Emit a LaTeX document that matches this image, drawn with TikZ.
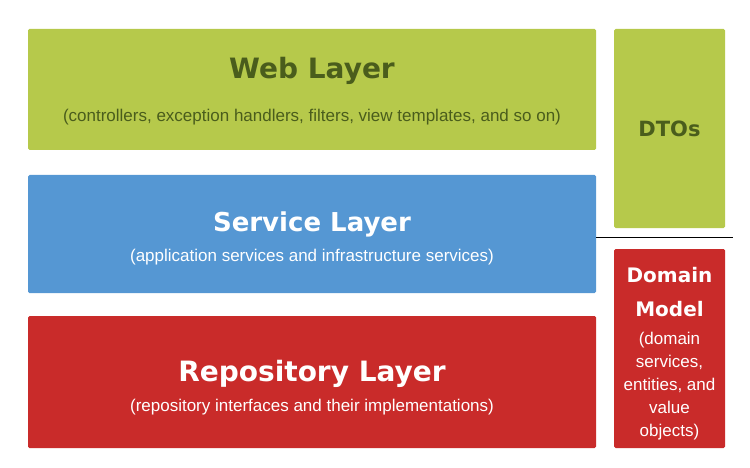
\documentclass[tikz,border=0pt]{standalone}
\usepackage{fontspec}
\setmainfont{Liberation Sans}
\newfontfamily\heavyfont{DejaVu Sans}[BoldFont={DejaVu Sans Bold}]
\usetikzlibrary{positioning}

\definecolor{webgreen}{HTML}{B6C94B}
\definecolor{webtext}{HTML}{4A5D1C}
\definecolor{serviceblue}{HTML}{5597D3}
\definecolor{domainred}{HTML}{C92B2A}

\newcommand{\heading}[2]{{\heavyfont\bfseries\fontsize{#1}{#1}\selectfont #2}}

\begin{document}
\begin{tikzpicture}[
    x=1pt, y=-1pt,
    % --- block styles ---
    layer/.style={
        rounded corners=1.5pt, minimum width=568pt, inner sep=0pt},
    side/.style={
        rounded corners=1.5pt, minimum width=111pt, minimum height=199pt,
        inner sep=0pt},
    caption/.style={align=center, inner sep=0pt,
        font=\fontsize{17}{19}\selectfont},
    sidecaption/.style={align=center, inner sep=0pt,
        font=\fontsize{17}{23}\selectfont},
    divider/.style={draw=black, line width=0.8pt},
]
\useasboundingbox (0,0) rectangle (750,468);

% ===== LAYERS (left column) =====
\node[layer, fill=webgreen, minimum height=121pt] (web) at (312,89.5) {};
\node[caption, text=webtext] (webcap) at ([yshift=-1.5pt]web.center)
    {\heading{28}{Web Layer}\\[24pt]
     (controllers, exception handlers, filters, view templates, and so on)};

\node[layer, fill=serviceblue, minimum height=118pt] (svc) at (312,234) {};
\node[caption, text=white] (svccap) at ([yshift=-4pt]svc.center)
    {\heading{26}{Service Layer}\\[11pt]
     (application services and infrastructure services)};

\node[layer, fill=domainred, minimum height=132pt] (repo) at (312,382) {};
\node[caption, text=white] (repocap) at ([yshift=-6pt]repo.center)
    {\heading{28}{Repository Layer}\\[11pt]
     (repository interfaces and their implementations)};

% ===== SIDE BOXES (right column) =====
\node[side, fill=webgreen] (dto) at (669.5,128.5) {};
\node[caption, text=webtext] (dtocap) at (dto.center)
    {\heading{21}{DTOs}};

\node[side, fill=domainred] (dom) at (669.5,348.5) {};
\node[sidecaption, text=white] (domcap) at ([yshift=-5pt]dom.center)
    {\heading{20}{Domain}\\[11pt]
     \heading{20}{Model}\\[5pt]
     (domain\\services,\\entities, and\\value\\objects)};

% ===== DIVIDER =====
\coordinate (sepend) at (733,237);
\draw[divider] (svc.east |- sepend) -- (sepend);

\end{tikzpicture}
\end{document}
